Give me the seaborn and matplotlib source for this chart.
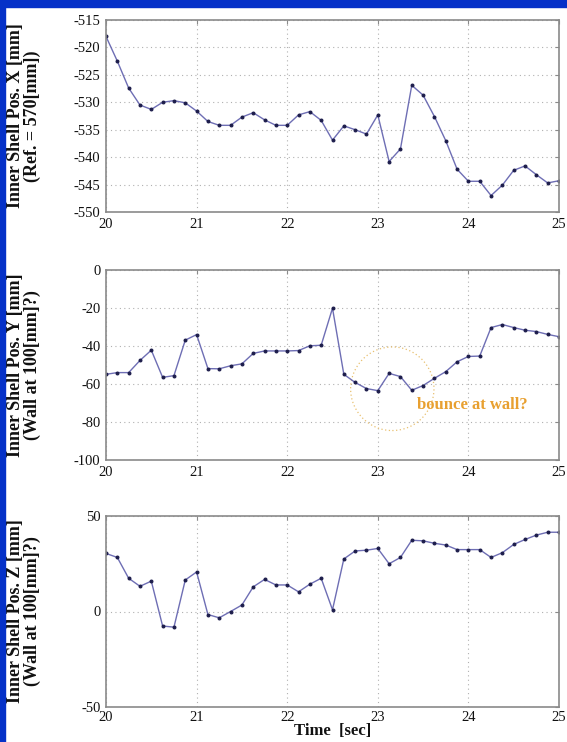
import numpy as np
import pandas as pd
import matplotlib
matplotlib.use("Agg")
import matplotlib.pyplot as plt
import seaborn as sns
from matplotlib.patches import Ellipse, Rectangle

# ---- data ----
time_sec = [20.0 + 0.125 * i for i in range(41)]
pos_x = [-518.0, -522.5, -527.4, -530.5, -531.3, -530.0, -529.7, -530.1, -531.6, -533.5,
         -534.2, -534.2, -532.7, -531.9, -533.2, -534.2, -534.2, -532.3, -531.7, -533.3,
         -536.9, -534.3, -535.0, -535.8, -532.3, -540.8, -538.5, -526.9, -528.7, -532.6,
         -537.0, -542.2, -544.4, -544.4, -547.0, -545.1, -542.4, -541.6, -543.2, -544.7,
         -544.3]
pos_y = [-54.9, -54.0, -54.0, -47.6, -42.2, -56.5, -55.6, -36.9, -34.0, -51.9,
         -52.0, -50.4, -49.4, -43.9, -42.6, -42.6, -42.6, -42.4, -39.9, -39.6,
         -20.1, -54.9, -59.2, -62.4, -63.5, -54.4, -56.1, -63.3, -60.8, -57.0,
         -53.5, -48.3, -45.5, -45.3, -30.3, -28.7, -30.3, -31.7, -32.4, -33.9,
         -35.1]
pos_z = [30.4, 28.3, 17.4, 13.2, 15.9, -7.6, -8.2, 16.5, 20.7, -1.6,
         -3.3, 0.0, 3.4, 12.9, 16.8, 13.9, 13.9, 10.3, 14.3, 17.4,
         0.9, 27.5, 31.7, 32.1, 33.0, 25.0, 28.3, 37.3, 37.0, 35.7,
         34.8, 32.4, 32.4, 32.4, 28.3, 30.8, 35.1, 37.7, 40.0, 41.5,
         41.5]

y_labels = ["Inner Shell Pos. X [mm]\n(Ref. = 570[mm])",
            "Inner Shell Pos. Y [mm]\n(Wall at 100[mm]?)",
            "Inner Shell Pos. Z [mm]\n(Wall at 100[mm]?)"]
y_ticks = [[-515, -520, -525, -530, -535, -540, -545, -550],
           [0, -20, -40, -60, -80, -100],
           [50, 0, -50]]
y_lims = [(-550, -515), (-100, 0), (-50, 50)]
x_ticks = [20, 21, 22, 23, 24, 25]
x_label = "Time  [sec]"
note_text = "bounce at wall?"

sns.set_theme(style="white")
plt.rcParams["font.family"] = ["Liberation Serif", "DejaVu Serif"]
plt.rcParams["axes.unicode_minus"] = False

fig = plt.figure(figsize=(5.67, 7.42), dpi=100)
W, H = 567, 742
left, right = 106, 559
tops = [20, 270, 516]
bottoms = [212, 460, 707]

df = pd.DataFrame({"t": time_sec, "x": pos_x, "y": pos_y, "z": pos_z})
cols = ["x", "y", "z"]

line_col = "#6e6eb4"
dot_col = "#1c1c4a"
spine_col = "#8a8a8a"

axes = []
for i in range(3):
    ax = fig.add_axes([left / W, 1 - bottoms[i] / H, (right - left) / W, (bottoms[i] - tops[i]) / H])
    axes.append(ax)
    sns.lineplot(data=df, x="t", y=cols[i], ax=ax, color=line_col, linewidth=1.0,
                 marker="o", markersize=2.1, markerfacecolor=dot_col, markeredgecolor=dot_col)
    ax.set_xlim(20, 25)
    ax.set_ylim(*y_lims[i])
    ax.set_xticks(x_ticks)
    ax.set_yticks(y_ticks[i])
    ax.set_xticklabels([str(v) for v in x_ticks])
    ax.set_yticklabels([str(v) for v in y_ticks[i]])
    ax.grid(True, color="#b0b0b0", linestyle=(0, (1, 3)), linewidth=0.8)
    for s in ax.spines.values():
        s.set_color(spine_col)
        s.set_linewidth(1.2)
        s.set_visible(True)
    ax.tick_params(axis="both", direction="in", length=3, color=spine_col, width=0.8,
                   labelsize=10.5, labelcolor="#111111", top=True, right=True, pad=4)
    ax.set_ylabel(y_labels[i], fontsize=13, fontweight="bold", color="#111111",
                  linespacing=0.95)
    ax.yaxis.set_label_coords((41 - left) / (right - left), 0.5)
    ax.set_xlabel("")

axes[2].tick_params(axis="x", pad=3)
axes[2].set_xlabel(x_label, fontsize=12, fontweight="bold", color="#111111", labelpad=-1)

# annotation on the Y plot
ax = axes[1]
ax.add_patch(Ellipse((23.16, -62.5), width=0.92, height=44, fill=False,
                     edgecolor="#e8c070", linestyle=(0, (1, 2)), linewidth=0.9))
ax.text(23.43, -71, note_text, color="#e8a030", fontsize=12, fontweight="bold",
        ha="left", va="center")

# blue frame
fig.patches.append(Rectangle((0, 1 - 7 / H), 1, 7 / H, transform=fig.transFigure,
                             color="#0531c8", zorder=10))
fig.patches.append(Rectangle((0, 0), 5 / W, 1, transform=fig.transFigure,
                             color="#0531c8", zorder=10))

fig.savefig("out.png", dpi=100)
